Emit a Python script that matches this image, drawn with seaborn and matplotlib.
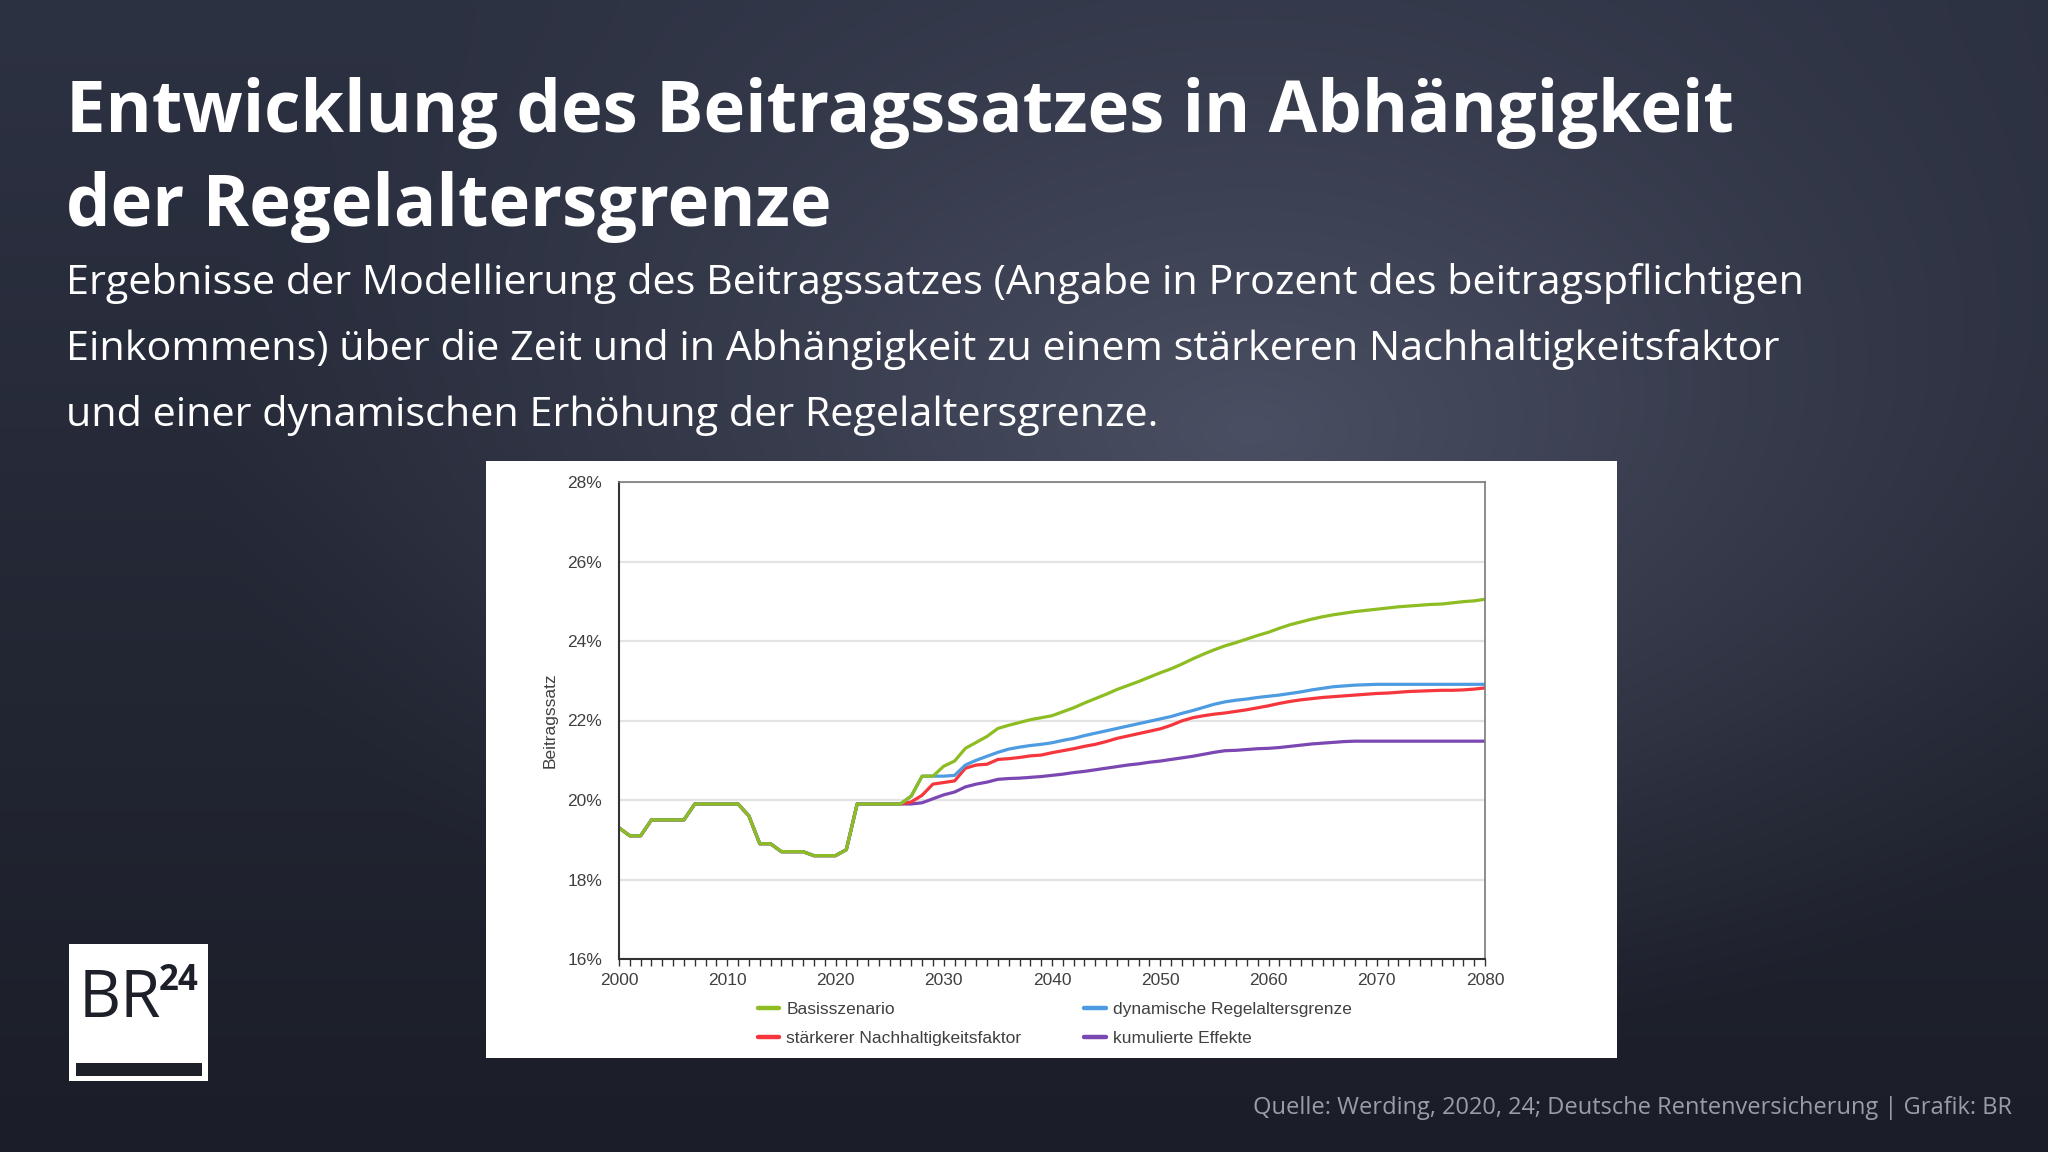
import numpy as np
import pandas as pd
import matplotlib
matplotlib.use("Agg")
import matplotlib.pyplot as plt
from matplotlib import font_manager
from matplotlib.patches import Rectangle
from matplotlib.ticker import MultipleLocator, FuncFormatter
import seaborn as sns

# --- data (Beitragssatz in %) ---
years = list(range(2000, 2081))

# shared history 2000-2026
history = [19.3, 19.1, 19.1, 19.5, 19.5, 19.5, 19.5, 19.9, 19.9, 19.9,
           19.9, 19.9, 19.6, 18.9, 18.9, 18.7, 18.7, 18.7, 18.6, 18.6,
           18.6, 18.75, 19.9, 19.9, 19.9, 19.9, 19.9]

# projections 2027-2080
basis = [20.1, 20.6, 20.6, 20.85, 20.98, 21.3, 21.45, 21.6, 21.8, 21.88,
         21.95, 22.02, 22.07, 22.12, 22.22, 22.32, 22.44, 22.55, 22.66, 22.78,
         22.88, 22.98, 23.09, 23.2, 23.3, 23.42, 23.55, 23.67, 23.78, 23.88,
         23.96, 24.05, 24.14, 24.22, 24.32, 24.41, 24.48, 24.55, 24.61, 24.66,
         24.7, 24.74, 24.77, 24.8, 24.83, 24.86, 24.88, 24.9, 24.92, 24.93,
         24.96, 24.99, 25.01, 25.05]
dynamisch = [20.1, 20.6, 20.6, 20.6, 20.62, 20.88, 21.0, 21.1, 21.2, 21.28,
             21.33, 21.37, 21.4, 21.44, 21.5, 21.55, 21.62, 21.68, 21.74, 21.8,
             21.86, 21.92, 21.98, 22.04, 22.1, 22.18, 22.25, 22.33, 22.41, 22.47,
             22.51, 22.54, 22.58, 22.61, 22.64, 22.68, 22.72, 22.77, 22.81, 22.85,
             22.87, 22.89, 22.9, 22.91, 22.91, 22.91, 22.91, 22.91, 22.91, 22.91,
             22.91, 22.91, 22.91, 22.91]
nachhaltig = [19.95, 20.12, 20.4, 20.44, 20.48, 20.8, 20.88, 20.9, 21.02, 21.04,
              21.07, 21.11, 21.13, 21.19, 21.24, 21.29, 21.35, 21.4, 21.47, 21.55,
              21.61, 21.67, 21.73, 21.79, 21.88, 21.99, 22.07, 22.12, 22.16, 22.19,
              22.23, 22.27, 22.32, 22.37, 22.43, 22.48, 22.52, 22.55, 22.58, 22.6,
              22.62, 22.64, 22.66, 22.68, 22.69, 22.71, 22.73, 22.74, 22.75, 22.76,
              22.76, 22.77, 22.79, 22.82]
kumuliert = [19.9, 19.93, 20.03, 20.13, 20.2, 20.33, 20.4, 20.45, 20.52, 20.54,
             20.55, 20.57, 20.59, 20.62, 20.65, 20.69, 20.72, 20.76, 20.8, 20.84,
             20.88, 20.91, 20.95, 20.98, 21.02, 21.06, 21.1, 21.15, 21.2, 21.24,
             21.25, 21.27, 21.29, 21.3, 21.32, 21.35, 21.38, 21.41, 21.43, 21.45,
             21.47, 21.48, 21.48, 21.48, 21.48, 21.48, 21.48, 21.48, 21.48, 21.48,
             21.48, 21.48, 21.48, 21.48]

series_names = ["Basisszenario", "stärkerer Nachhaltigkeitsfaktor",
                "dynamische Regelaltersgrenze", "kumulierte Effekte"]
series_colors = {"Basisszenario": "#8dbd22",
                 "dynamische Regelaltersgrenze": "#4d9be0",
                 "stärkerer Nachhaltigkeitsfaktor": "#f5363c",
                 "kumulierte Effekte": "#7b48b3"}

df = pd.DataFrame({"Jahr": years,
                   "Basisszenario": history + basis,
                   "dynamische Regelaltersgrenze": history + dynamisch,
                   "stärkerer Nachhaltigkeitsfaktor": history + nachhaltig,
                   "kumulierte Effekte": history + kumuliert})

# --- fonts ---
available = {f.name for f in font_manager.fontManager.ttflist}
if "Liberation Sans Narrow" in available:
    head_font, title_size, sub_size, foot_size = "Liberation Sans Narrow", 60, 35, 19.5
else:
    head_font, title_size, sub_size, foot_size = "Open Sans", 50.8, 29.8, 17
chart_font = "Liberation Sans"

sns.set_style("white")
plt.rcParams["font.family"] = [chart_font, "DejaVu Sans"]

W, H = 2048, 1152
fig = plt.figure(figsize=(W / 100, H / 100), dpi=100)

# --- background gradient ---
bg = fig.add_axes([0, 0, 1, 1])
yy, xx = np.mgrid[0:H, 0:W]
vert = yy / H
top = np.array([0x2d, 0x32, 0x43]) / 255
bot = np.array([0x1b, 0x1e, 0x28]) / 255
base = top[None, None, :] * (1 - vert[..., None]) + bot[None, None, :] * vert[..., None]
d = np.sqrt(((xx - 1250) / 1050) ** 2 + ((yy - 430) / 640) ** 2)
glow = np.clip(1 - d, 0, 1) ** 1.2
hi = np.array([0x4a, 0x4f, 0x63]) / 255
img = base * (1 - glow[..., None]) + hi[None, None, :] * glow[..., None]
bg.imshow(img, extent=[0, W, H, 0], aspect="auto", interpolation="bilinear")
bg.set_xlim(0, W)
bg.set_ylim(H, 0)
bg.axis("off")

# --- headline texts ---
fig.text(66 / W, 1 - 132 / H, "Entwicklung des Beitragssatzes in Abhängigkeit",
         family=[head_font, "DejaVu Sans"], weight="bold", size=title_size,
         color="white", va="baseline")
fig.text(66 / W, 1 - 226 / H, "der Regelaltersgrenze",
         family=[head_font, "DejaVu Sans"], weight="bold", size=title_size,
         color="white", va="baseline")
sub_lines = ["Ergebnisse der Modellierung des Beitragssatzes (Angabe in Prozent des beitragspflichtigen",
             "Einkommens) über die Zeit und in Abhängigkeit zu einem stärkeren Nachhaltigkeitsfaktor",
             "und einer dynamischen Erhöhung der Regelaltersgrenze."]
for i, line in enumerate(sub_lines):
    fig.text(66 / W, 1 - (294 + i * 66) / H, line, family=[head_font, "DejaVu Sans"],
             size=sub_size, color="white", va="baseline")

fig.text(2012 / W, 1 - 1114 / H,
         "Quelle: Werding, 2020, 24; Deutsche Rentenversicherung | Grafik: BR",
         family=[head_font, "DejaVu Sans"], size=foot_size, color="#9a9da6",
         ha="right", va="baseline")

# --- white chart panel ---
bg.add_patch(Rectangle((486, 461), 1131, 597, facecolor="white", edgecolor="none"))

# --- BR24 logo ---
bg.add_patch(Rectangle((69, 944), 139, 137, facecolor="white", edgecolor="none"))
bg.add_patch(Rectangle((76, 1063), 126, 13, facecolor="#1e2029", edgecolor="none"))
bg.text(79, 1017, "BR", family=["Open Sans", "DejaVu Sans"], size=47,
        color="#1e2029", va="baseline", ha="left")
bg.text(159, 990, "24", family=["Open Sans", "DejaVu Sans"], size=25,
        weight="bold", color="#1e2029", va="baseline", ha="left")

# --- chart ---
ax = fig.add_axes([619 / W, 1 - 959 / H, (1485 - 619) / W, (959 - 482) / H])
ax.set_facecolor("white")
for name in ["kumulierte Effekte", "stärkerer Nachhaltigkeitsfaktor",
             "dynamische Regelaltersgrenze", "Basisszenario"]:
    sns.lineplot(data=df, x="Jahr", y=name, ax=ax, color=series_colors[name],
                 linewidth=2.3, label=name, legend=False)

ax.set_xlim(2000, 2080)
ax.set_ylim(16, 28)
ax.yaxis.set_major_locator(MultipleLocator(2))
ax.yaxis.set_major_formatter(FuncFormatter(lambda v, p: f"{v:.0f}%"))
ax.xaxis.set_major_locator(MultipleLocator(10))
ax.xaxis.set_minor_locator(MultipleLocator(1))
ax.grid(axis="y", color="#e3e3e3", linewidth=1.6)
ax.set_axisbelow(True)
ax.tick_params(axis="x", which="both", direction="out", length=5, width=1,
               color="#333333", bottom=True, labelsize=12.5, labelcolor="#404040", pad=5)
ax.tick_params(axis="y", which="both", length=0, labelsize=12.5,
               labelcolor="#404040", pad=12)
for side in ["left", "bottom"]:
    ax.spines[side].set_color("#333333")
    ax.spines[side].set_linewidth(1.5)
for side in ["top", "right"]:
    ax.spines[side].set_visible(True)
    ax.spines[side].set_color("#7a7a7a")
    ax.spines[side].set_linewidth(1.2)
ax.set_xlabel("")
ax.set_ylabel("Beitragssatz", size=12.5, color="#404040", labelpad=7)

handles, labels = ax.get_legend_handles_labels()
order = [labels.index(n) for n in series_names]
leg = ax.legend([handles[i] for i in order], [labels[i] for i in order], ncol=2,
                loc="upper left", bbox_to_anchor=(123 / 866, -0.058), frameon=False,
                fontsize=12.5, handlelength=1.25, handletextpad=0.4,
                columnspacing=3.6, labelspacing=0.8, labelcolor="#404040")
for line in leg.get_lines():
    line.set_linewidth(3.2)

fig.savefig("out.png", dpi=100)
